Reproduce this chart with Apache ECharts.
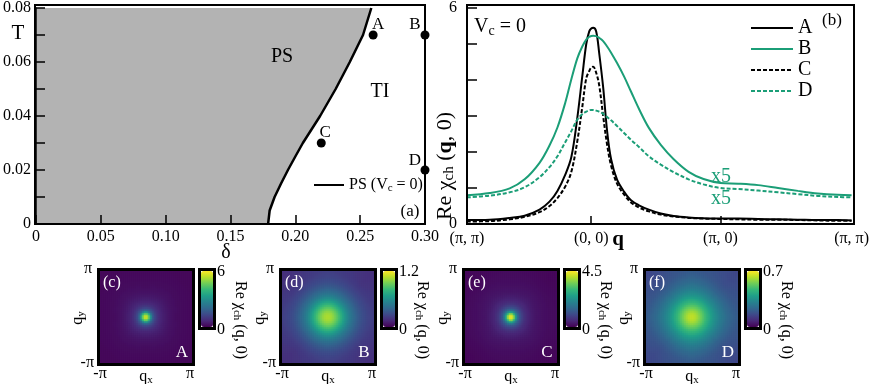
<!DOCTYPE html>
<html><head><meta charset="utf-8">
<script src="https://cdn.jsdelivr.net/npm/echarts@6/dist/echarts.min.js"></script>
<style>html,body{margin:0;padding:0;background:#fff}#c{width:872px;height:384px}</style>
</head><body><div id="c"></div>
<script>
// ---------- Panel (a): phase diagram ----------
const boundaryT     = [0, 0.005, 0.01, 0.015, 0.02, 0.025, 0.03, 0.04, 0.05, 0.06, 0.07, 0.08];
const boundaryDelta = [0.179, 0.1802, 0.184, 0.189, 0.1943, 0.2, 0.2058, 0.2191, 0.2311, 0.242, 0.2522, 0.2586];
const pointNames = ['A', 'B', 'C', 'D'];
const pointDelta = [0.26, 0.30, 0.22, 0.30];
const pointT     = [0.07, 0.07, 0.03, 0.02];

// ---------- Panel (b): Re chi_ch(q,0) along path (k index) ----------
const kIndex = [0,23,43,58,73,83,91,99,105,111,116,120,123,125,127,130,133,137,141,145,151,158,165,173,183,195,208,223,238,255,273,293,313,333,353,373,387];
const kTickPos = [0, 125, 255, 387];
const kTickLabels = ['(π, π)', '(0, 0)', '(π, 0)', '(π, π)'];
const chiA = [0.11,0.12,0.17,0.23,0.40,0.62,0.92,1.38,1.86,2.95,4.1,5.0,5.35,5.43,5.45,5.35,4.75,3.8,2.58,1.8,1.23,0.9,0.66,0.52,0.40,0.29,0.22,0.18,0.16,0.15,0.15,0.14,0.13,0.12,0.11,0.11,0.10];
const chiB = [0.80,0.86,0.99,1.24,1.70,2.18,2.68,3.38,4.02,4.6,4.93,5.12,5.2,5.22,5.23,5.22,5.17,5.08,4.93,4.76,4.47,4.1,3.68,3.2,2.67,2.2,1.8,1.45,1.25,1.14,1.12,1.08,1.00,0.92,0.85,0.81,0.80];
const chiC = [0.07,0.08,0.13,0.20,0.33,0.50,0.72,1.05,1.45,2.3,3.25,4.05,4.25,4.35,4.37,4.2,3.86,3.0,2.2,1.62,1.12,0.82,0.6,0.46,0.35,0.26,0.21,0.17,0.15,0.14,0.13,0.12,0.12,0.11,0.10,0.09,0.09];
const chiD = [0.74,0.79,0.88,1.02,1.30,1.58,1.88,2.28,2.58,2.90,3.05,3.12,3.16,3.17,3.17,3.15,3.12,3.06,2.97,2.88,2.72,2.53,2.34,2.14,1.88,1.65,1.44,1.24,1.10,1.00,0.97,0.93,0.88,0.83,0.78,0.75,0.74];
const bScale = 5; // B and D shown x5 in panel (b)

// ---------- Heatmaps (c)-(f) ----------
const hmLabels = ['(c)', '(d)', '(e)', '(f)'];
const hmPoints = ['A', 'B', 'C', 'D'];
const hmCurves = [chiA, chiB, chiC, chiD];
const hmDivide = [1, bScale, 1, bScale];
const cbMax = [6, 1.2, 4.5, 0.7];
const cbMaxLabels = ['6', '1.2', '4.5', '0.7'];

const FONT = "'Liberation Serif','Times New Roman',serif";
const GREEN = '#1b9e77';
const viridis = ['#440154','#482878','#3e4989','#31688e','#26828e','#1f9e89','#35b779','#6ece58','#b5de2b','#fde725'];

function interp(arr, k) {
  if (k <= kIndex[0]) return arr[0];
  for (let i = 1; i < kIndex.length; i++) {
    if (k <= kIndex[i]) {
      const t = (k - kIndex[i-1]) / (kIndex[i] - kIndex[i-1]);
      return arr[i-1] + t * (arr[i] - arr[i-1]);
    }
  }
  return arr[arr.length - 1];
}
// Value at (qx,qy) reconstructed from the cuts (0,0)->(pi,0) and (0,0)->(pi,pi)
function fieldValue(arr, qx, qy) {
  const PI = Math.PI;
  const hi = Math.max(Math.abs(qx), Math.abs(qy)), lo = Math.min(Math.abs(qx), Math.abs(qy));
  const r = Math.sqrt(qx*qx + qy*qy);
  const s = Math.min(1, r / PI);
  const w = (Math.atan2(lo, hi) / (PI/4)) * s * s;
  const kAx = kTickPos[1] + (kTickPos[2]-kTickPos[1]) * Math.min(r, PI) / PI;
  const kDg = kTickPos[1] - (kTickPos[1]-kTickPos[0]) * Math.min(r, PI*Math.SQRT2) / (PI*Math.SQRT2);
  return (1-w) * interp(arr, kAx) + w * interp(arr, kDg);
}
const N = 46;
const hmData = hmCurves.map((arr, h) => {
  const out = [];
  for (let i = 0; i < N; i++) for (let j = 0; j < N; j++) {
    const qx = -Math.PI + (i + 0.5) * 2 * Math.PI / N;
    const qy = -Math.PI + (j + 0.5) * 2 * Math.PI / N;
    out.push([i, j, fieldValue(arr, qx, qy) / hmDivide[h]]);
  }
  return out;
});

// ---------- layout ----------
const gA = {left: 35, top: 5, width: 390, height: 219};
const gB = {left: 467, top: 5, width: 387, height: 219};
const hmLeft = [100, 282, 465, 646];
const hmTop = 271, hmSize = 92;

function richSet(fs, color) {
  color = color || '#000';
  return {
    n: {fontSize: fs, fontFamily: FONT, color: color, fill: color, lineHeight: fs + 2},
    s: {fontSize: Math.round(fs*0.68), fontFamily: FONT, color: color, fill: color, verticalAlign: 'bottom', lineHeight: Math.round(fs*0.62)},
    b: {fontSize: fs, fontFamily: FONT, fontWeight: 'bold', color: color, fill: color, lineHeight: fs + 2}
  };
}
function txt(x, y, text, fs, opts) {
  opts = opts || {};
  const color = opts.color || '#000';
  return {
    type: 'text', x: x, y: y, rotation: opts.rotation || 0, z: 60, silent: true,
    style: {
      text: text, fontSize: fs, fontFamily: FONT, fontWeight: opts.bold ? 'bold' : 'normal',
      fill: color, align: opts.align || 'center', verticalAlign: 'middle',
      rich: opts.rich ? richSet(fs, color) : undefined
    }
  };
}
function frame(x, y, w, h, lw) {
  return {type: 'rect', z: 55, silent: true, shape: {x: x, y: y, width: w, height: h},
          style: {fill: null, stroke: '#000', lineWidth: lw}};
}

const graphics = [
  frame(gA.left, gA.top, gA.width, gA.height, 2),
  frame(gB.left, gB.top, gB.width, gB.height, 2),
  txt(282, 57, 'PS', 20),
  txt(380, 92, 'TI', 20),
  txt(410, 212, '(a)', 17),
  txt(18, 33, 'T', 21),
  txt(226, 253, 'δ', 20),
  txt(832, 21, '(b)', 17),
  txt(474, 27, '{n|V}{s|c}{n| = 0}', 20, {rich: true, align: 'left'}),
  txt(721, 177, 'x5', 20, {color: GREEN}),
  txt(721, 199, 'x5', 20, {color: GREEN}),
  txt(618, 240, 'q', 21, {bold: true}),
  txt(445, 166, '{n|Re χ}{s|ch}{n| (}{b|q}{n|, 0)}', 22, {rich: true, rotation: Math.PI/2})
];
hmLeft.forEach((gl, h) => {
  const cbl = gl + 101;
  graphics.push(frame(gl - 1.5, hmTop - 1.5, hmSize + 3, hmSize + 3, 3));
  graphics.push(frame(cbl - 1.5, 269.5, 15, 59, 3));
  graphics.push(txt(cbl + 16, 272, cbMaxLabels[h], 16, {align: 'left'}));
  graphics.push(txt(cbl + 16, 330, '0', 16, {align: 'left'}));
  graphics.push(txt(cbl + 39, 320, '{n|Re χ}{s|ch}{n| (q, 0)}', 16, {rich: true, rotation: -Math.PI/2}));
  graphics.push(txt(gl - 8, 269, 'π', 16, {align: 'right'}));
  graphics.push(txt(gl - 6, 363, '-π', 16, {align: 'right'}));
  graphics.push(txt(gl, 374, '-π', 16));
  graphics.push(txt(gl + 90, 374, 'π', 16));
  graphics.push(txt(gl + 46, 377, '{n|q}{s|x}', 16, {rich: true}));
  graphics.push(txt(gl - 22, 318, '{n|q}{s|y}', 16, {rich: true, rotation: Math.PI/2}));
  graphics.push(txt(gl + 3, 283, hmLabels[h], 16, {color: '#fff', align: 'left'}));
  graphics.push(txt(gl + 82, 353, hmPoints[h], 17, {color: '#fff'}));
});

const labelOffsets = {A: [5, -10], B: [-10, -10], C: [4, -10], D: [-10, -9]};

const axisCommon = {
  axisLine: {show: true, lineStyle: {color: '#000', width: 1.5}},
  axisTick: {show: true, inside: true, length: 9, lineStyle: {color: '#000', width: 1.5}},
  axisLabel: {color: '#000', fontSize: 16, fontFamily: FONT},
  splitLine: {show: false}, z: 10
};

const xAxes = [
  Object.assign({}, axisCommon, {type: 'value', gridIndex: 0, min: 0, max: 0.3, interval: 0.05,
    axisLabel: Object.assign({}, axisCommon.axisLabel, {margin: 5, formatter: v => v === 0 ? '0' : v.toFixed(2)})}),
  Object.assign({}, axisCommon, {type: 'value', gridIndex: 1, min: 0, max: 387,
    axisTick: {show: true, inside: true, length: 8, lineStyle: {color: '#000', width: 1.5}, customValues: [kTickPos[1], kTickPos[2]]},
    axisLabel: Object.assign({}, axisCommon.axisLabel, {margin: 7, customValues: kTickPos,
      formatter: v => kTickLabels[kTickPos.indexOf(Math.round(v))] || ''})})
];
const yAxes = [
  Object.assign({}, axisCommon, {type: 'value', gridIndex: 0, min: 0, max: 0.08, interval: 0.01,
    axisLabel: Object.assign({}, axisCommon.axisLabel, {margin: 5,
      formatter: v => { const n = Math.round(v*100); return n % 2 ? '' : (n === 0 ? '0' : v.toFixed(2)); }})}),
  Object.assign({}, axisCommon, {type: 'value', gridIndex: 1, min: 0, max: 6, interval: 1,
    axisTick: {show: true, inside: true, length: 10, lineStyle: {color: '#000', width: 1.5}},
    axisLabel: Object.assign({}, axisCommon.axisLabel, {margin: 10, formatter: v => (v === 0 || v === 6) ? String(v) : ''})})
];
const cats = Array.from({length: N}, (_, i) => i);
for (let h = 0; h < 4; h++) {
  xAxes.push({type: 'category', gridIndex: 2 + h, data: cats, show: false});
  yAxes.push({type: 'category', gridIndex: 2 + h, data: cats, show: false});
}

function curve(name, arr, color, dashed) {
  return {type: 'line', name: name, xAxisIndex: 1, yAxisIndex: 1, symbol: 'none', showSymbol: false, smooth: 0.35,
    data: kIndex.map((k, i) => [k, arr[i]]),
    lineStyle: {color: color, width: 2, type: dashed ? [4, 2] : 'solid'}, itemStyle: {color: color}};
}

const series = [
  {type: 'custom', name: 'PS region', xAxisIndex: 0, yAxisIndex: 0, z: 1, silent: true,
   data: boundaryDelta.map((d, i) => [d, boundaryT[i]]),
   renderItem: function (params, api) {
     if (params.dataIndex !== 0) return null;
     const pts = [api.coord([0, 0])];
     boundaryDelta.forEach((d, i) => pts.push(api.coord([d, boundaryT[i]])));
     pts.push(api.coord([0, boundaryT[boundaryT.length - 1]]));
     return {type: 'polygon', shape: {points: pts}, style: {fill: '#b3b3b3', stroke: null}};
   }},
  {type: 'line', name: 'PS (Vc = 0)', xAxisIndex: 0, yAxisIndex: 0, z: 3, symbol: 'none', showSymbol: false,
   data: boundaryDelta.map((d, i) => [d, boundaryT[i]]),
   lineStyle: {color: '#000', width: 2.5}, itemStyle: {color: '#000'}},
  {type: 'scatter', name: 'points', xAxisIndex: 0, yAxisIndex: 0, z: 4, clip: false, symbolSize: 9,
   itemStyle: {color: '#000', opacity: 1},
   data: pointNames.map((n, i) => ({value: [pointDelta[i], pointT[i]], name: n,
     label: {show: true, position: 'inside', offset: labelOffsets[n], formatter: n, color: '#000', fontSize: 17, fontFamily: FONT}}))},
  curve('A', chiA, '#000', false),
  curve('B', chiB, GREEN, false),
  curve('C', chiC, '#000', true),
  curve('D', chiD, GREEN, true)
];
const hmSeriesStart = series.length;
for (let h = 0; h < 4; h++) {
  series.push({type: 'heatmap', xAxisIndex: 2 + h, yAxisIndex: 2 + h, data: hmData[h], progressive: 0,
    silent: true, itemStyle: {borderWidth: 0}, emphasis: {disabled: true}});
}

const grids = [gA, gB];
hmLeft.forEach(gl => grids.push({left: gl, top: hmTop, width: hmSize, height: hmSize}));

const option = {
  animation: false,
  textStyle: {fontFamily: FONT},
  grid: grids,
  xAxis: xAxes,
  yAxis: yAxes,
  legend: [
    {data: ['PS (Vc = 0)'], left: 308, top: 172, itemWidth: 30, itemHeight: 14, itemGap: 0,
     selectedMode: false, itemStyle: {opacity: 0},
     formatter: () => '{n|PS (V}{s|c}{n| = 0)}',
     textStyle: {color: '#000', fontSize: 16, fontFamily: FONT, rich: {
       n: {fontSize: 16, fontFamily: FONT, color: '#000', lineHeight: 18},
       s: {fontSize: 11, fontFamily: FONT, color: '#000', verticalAlign: 'bottom', lineHeight: 10}}}},
    {data: ['A', 'B', 'C', 'D'], orient: 'vertical', left: 745, top: 13, itemWidth: 42, itemHeight: 14,
     itemGap: 1, selectedMode: false, itemStyle: {opacity: 0},
     textStyle: {color: '#000', fontSize: 20, fontFamily: FONT}}
  ],
  visualMap: hmLeft.map((gl, h) => ({
    type: 'continuous', min: 0, max: cbMax[h], seriesIndex: hmSeriesStart + h, calculable: false,
    left: gl + 101, top: 271, itemWidth: 12, itemHeight: 56, padding: 0, orient: 'vertical',
    inRange: {color: viridis}, hoverLink: false
  })),
  graphic: graphics,
  series: series
};
const chart = echarts.init(document.getElementById('c'), null, {renderer: 'canvas'});
chart.setOption(option);
</script></body></html>
